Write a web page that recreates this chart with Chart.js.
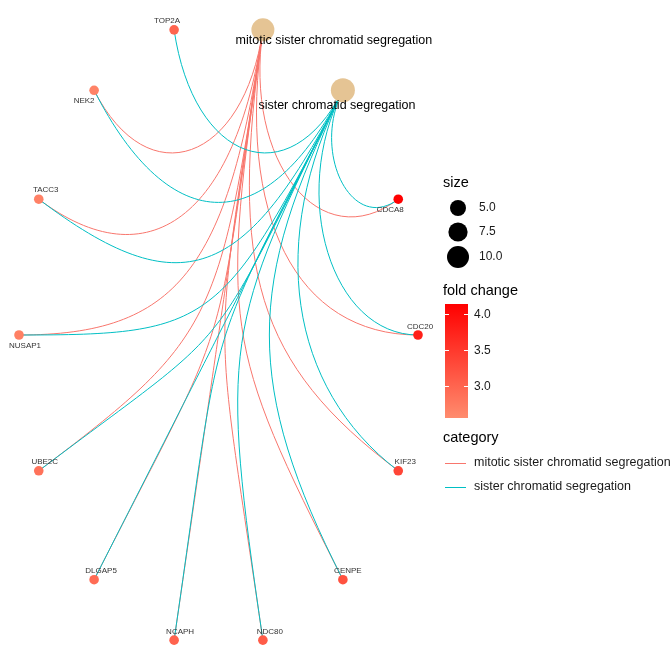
<!DOCTYPE html>
<html>
<head>
<meta charset="utf-8">
<script src="https://cdn.jsdelivr.net/npm/chart.js@4"></script>
<style>
  html, body { margin: 0; padding: 0; background: #ffffff; }
  canvas { display: block; }
</style>
</head>
<body>
<canvas id="c" width="672" height="671"></canvas>
<script>
// ---------------- data ----------------
const categoryNames = ['mitotic sister chromatid segregation', 'sister chromatid segregation'];
const categorySizes = [11, 12];
const geneNames = ['CDCA8', 'CDC20', 'KIF23', 'CENPE', 'NDC80', 'NCAPH', 'DLGAP5', 'UBE2C', 'NUSAP1', 'TACC3', 'NEK2', 'TOP2A'];
const foldChange = [4.14, 3.78, 3.35, 3.22, 3.10, 3.02, 2.92, 2.85, 2.70, 2.68, 2.66, 3.00];
const mitoticGenes = ['CDCA8', 'CDC20', 'KIF23', 'CENPE', 'NDC80', 'NCAPH', 'DLGAP5', 'UBE2C', 'NUSAP1', 'TACC3', 'NEK2'];
const sisterGenes = ['CDCA8', 'CDC20', 'KIF23', 'CENPE', 'NDC80', 'NCAPH', 'DLGAP5', 'UBE2C', 'NUSAP1', 'TACC3', 'NEK2', 'TOP2A'];
const categoryGenes = [mitoticGenes, sisterGenes];
const sizeBreaks = [5, 7.5, 10];
const sizeBreakLabels = ['5.0', '7.5', '10.0'];
const fcTicks = [3.0, 3.5, 4.0];
const fcTickLabels = ['3.0', '3.5', '4.0'];
const fcLimits = [2.56, 4.14];

// ---------------- styles ----------------
const categoryColors = ['#F8766D', '#00BFC4'];
const categoryNodeColor = '#E5C494';
const lowColor = [255, 140, 110], highColor = [255, 0, 0];
const FONT = '"Liberation Sans", Arial, sans-serif';
// label offsets (px) relative to each node (text placement)
const labelOffsets = {
  'mitotic sister chromatid segregation': [71, 11],
  'sister chromatid segregation': [-6, 15],
  'TOP2A': [-7, -9], 'NEK2': [-10, 11], 'TACC3': [7, -9], 'CDCA8': [-8, 11],
  'NUSAP1': [6, 11], 'CDC20': [2, -8], 'UBE2C': [6, -9], 'KIF23': [7, -9],
  'DLGAP5': [7, -9], 'CENPE': [5, -9], 'NCAPH': [6, -8], 'NDC80': [7, -8]
};

function fcColor(v) {
  let t = (v - fcLimits[0]) / (fcLimits[1] - fcLimits[0]);
  t = Math.max(0, Math.min(1, t));
  const c = lowColor.map((l, i) => Math.round(l + (highColor[i] - l) * t));
  return 'rgb(' + c.join(',') + ')';
}
function sizeRadius(s) { return Math.sqrt(7 + 11.4 * s); }

// circular layout (ggraph 'linear', circular = TRUE)
const nodeOrder = categoryNames.concat(geneNames);
const N = nodeOrder.length;
const pos = {};
nodeOrder.forEach((n, i) => {
  const a = Math.PI / 2 - 2 * Math.PI * (i + 0.5) / N;
  pos[n] = { x: Math.cos(a), y: Math.sin(a) };
});

const geneData = geneNames.map(g => ({ x: pos[g].x, y: pos[g].y }));
const catData = categoryNames.map(c => ({ x: pos[c].x, y: pos[c].y }));

// ---------------- plugins ----------------
const edgePlugin = {
  id: 'edges',
  beforeDatasetsDraw(chart) {
    const ctx = chart.ctx, xs = chart.scales.x, ys = chart.scales.y;
    const px = v => xs.getPixelForValue(v), py = v => ys.getPixelForValue(v);
    ctx.save();
    ctx.lineWidth = 1;
    categoryNames.forEach((c, ci) => {
      ctx.strokeStyle = categoryColors[ci];
      categoryGenes[ci].forEach(g => {
        const a = pos[c], b = pos[g];
        const d = Math.max(-1, Math.min(1, a.x * b.x + a.y * b.y));
        const th = Math.acos(d) / 2;
        const k = 0.921 - 0.79 * th;
        ctx.beginPath();
        ctx.moveTo(px(a.x), py(a.y));
        ctx.bezierCurveTo(px(k * a.x), py(k * a.y), px(k * b.x), py(k * b.y), px(b.x), py(b.y));
        ctx.stroke();
      });
    });
    ctx.restore();
  },
  afterDatasetsDraw(chart) {
    const ctx = chart.ctx, xs = chart.scales.x, ys = chart.scales.y;
    ctx.save();
    ctx.textAlign = 'center';
    ctx.textBaseline = 'middle';
    nodeOrder.forEach(n => {
      const isCat = categoryNames.includes(n);
      ctx.font = (isCat ? '12.5px ' : '8px ') + FONT;
      ctx.fillStyle = isCat ? '#000000' : '#333333';
      const o = labelOffsets[n];
      ctx.fillText(n, xs.getPixelForValue(pos[n].x) + o[0], ys.getPixelForValue(pos[n].y) + o[1]);
    });
    ctx.restore();
  },
  afterDraw(chart) {
    const ctx = chart.ctx;
    ctx.save();
    ctx.textBaseline = 'middle';
    ctx.textAlign = 'left';
    // size legend
    ctx.fillStyle = '#000';
    ctx.font = '14.5px ' + FONT;
    ctx.fillText('size', 443, 183);
    const sizeY = [208, 232, 257];
    sizeBreaks.forEach((s, i) => {
      ctx.beginPath();
      ctx.arc(458, sizeY[i], sizeRadius(s), 0, Math.PI * 2);
      ctx.fillStyle = '#000';
      ctx.fill();
      ctx.font = '12px ' + FONT;
      ctx.fillStyle = '#1a1a1a';
      ctx.fillText(sizeBreakLabels[i], 479, sizeY[i]);
    });
    // fold change colorbar
    ctx.fillStyle = '#000';
    ctx.font = '14.5px ' + FONT;
    ctx.fillText('fold change', 443, 291);
    const barTop = 304, barBot = 418, barL = 445, barR = 468;
    const valToY = v => barBot - (v - fcLimits[0]) / (fcLimits[1] - fcLimits[0]) * (barBot - barTop);
    const grad = ctx.createLinearGradient(0, barBot, 0, barTop);
    for (let i = 0; i <= 10; i++) {
      grad.addColorStop(i / 10, fcColor(fcLimits[0] + (fcLimits[1] - fcLimits[0]) * i / 10));
    }
    ctx.fillStyle = grad;
    ctx.fillRect(barL, barTop, barR - barL, barBot - barTop);
    ctx.strokeStyle = '#ffffff';
    ctx.lineWidth = 1;
    fcTicks.forEach((t, i) => {
      const yy = Math.round(valToY(t)) + 0.5;
      ctx.beginPath();
      ctx.moveTo(barL, yy); ctx.lineTo(barL + 4, yy);
      ctx.moveTo(barR - 4, yy); ctx.lineTo(barR, yy);
      ctx.stroke();
      ctx.fillStyle = '#1a1a1a';
      ctx.font = '12px ' + FONT;
      ctx.fillText(fcTickLabels[i], 474, yy);
    });
    // category legend
    ctx.fillStyle = '#000';
    ctx.font = '14.5px ' + FONT;
    ctx.fillText('category', 443, 438);
    const catY = [463, 487];
    categoryNames.forEach((c, i) => {
      ctx.strokeStyle = categoryColors[i];
      ctx.lineWidth = 1;
      ctx.beginPath();
      ctx.moveTo(445, catY[i] + 0.5); ctx.lineTo(466, catY[i] + 0.5);
      ctx.stroke();
      ctx.fillStyle = '#1a1a1a';
      ctx.font = '12.5px ' + FONT;
      ctx.fillText(c, 474, catY[i]);
    });
    ctx.restore();
  }
};

new Chart(document.getElementById('c'), {
  type: 'scatter',
  data: {
    datasets: [
      {
        label: 'genes',
        data: geneData,
        pointRadius: 4.8,
        pointHoverRadius: 4.8,
        pointBackgroundColor: foldChange.map(fcColor),
        pointBorderWidth: 0,
        clip: false
      },
      {
        label: 'categories',
        data: catData,
        pointRadius: categorySizes.map(sizeRadius),
        pointHoverRadius: categorySizes.map(sizeRadius),
        pointBackgroundColor: categoryNodeColor,
        pointBorderWidth: 0,
        clip: false
      }
    ]
  },
  options: {
    responsive: false,
    devicePixelRatio: 1,
    animation: false,
    layout: { padding: { left: 19, right: 254, top: 22, bottom: 23 } },
    scales: {
      x: { type: 'linear', min: -1, max: 1, display: false },
      y: { type: 'linear', min: -1, max: 1, display: false }
    },
    plugins: { legend: { display: false }, tooltip: { enabled: false } },
    events: []
  },
  plugins: [edgePlugin]
});
</script>
</body>
</html>
